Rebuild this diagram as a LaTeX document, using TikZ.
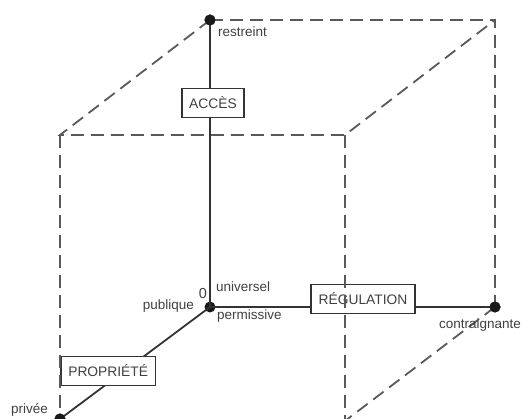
\documentclass[tikz,border=0pt]{standalone}
\usepackage{fontspec}
\setmainfont{Liberation Sans}
\begin{document}
\begin{tikzpicture}[x=1pt,y=-1pt,
  axis/.style={draw=black!80,line width=1.8pt},
  edge/.style={draw=black!65,line width=1.8pt,dash pattern=on 13pt off 7pt},
  pt/.style={circle,fill=black!90,inner sep=0pt,minimum size=11pt},
  lbl/.style={text=black!75,font=\fontsize{13.5}{14}\selectfont,inner sep=0pt},
  dim/.style={draw=black!80,line width=1.6pt,fill=white,text=black!75,font=\fontsize{13.8}{14}\selectfont,minimum height=29pt,inner xsep=7.5pt}]
\useasboundingbox (0,0) rectangle (523,419);
\clip (0,0) rectangle (523,419);
% points
\node[pt] (A) at (210,20) {};
\node[pt] (O) at (210,307) {};
\node[pt] (C) at (495,307) {};
\node[pt] (P) at (60,419) {};
\coordinate (B2) at (495,20);
\coordinate (F1) at (60,135);
\coordinate (F2) at (345,135);
\coordinate (F3) at (345,421);
\coordinate (F4) at (60,410);
% axes
\draw[axis] (A.center) -- (O.center);
\draw[axis] (O.center) -- (C.center);
\draw[axis] (O.center) -- (P.center);
% boxes
\node[dim] (acc) at (213,103) {ACCÈS};
\node[dim] (reg) at (363,299) {RÉGULATION};
\node[dim,anchor=west] (pro) at (60,371) {PROPRIÉTÉ};
% dashed cube
\draw[edge] (A.center) -- (B2) -- (C.center);
\draw[edge] (A.center) -- (F1) -- (F2) -- (B2);
\draw[edge] (F1) -- (F4);
\draw[edge] (F2) -- (F3);
\draw[edge] (C.center) -- (F3);
\node[pt] at (A) {};
\node[pt] at (C) {};
\node[pt] at (P) {};
% labels
\node[lbl,anchor=west] (lr) at (218,32) {restreint};
\node[lbl,anchor=west] (lu) at (216,287) {universel};
\node[lbl,anchor=center,font=\fontsize{14.5}{15}\selectfont] (l0) at (203,294) {0};
\node[lbl,anchor=east] (lp) at (194,306) {publique};
\node[lbl,anchor=west] (lpe) at (217,316) {permissive};
\node[lbl,anchor=west] (lc) at (439,325) {contraignante};
\node[lbl,anchor=west] (lpr) at (11,410) {privée};
\end{tikzpicture}
\end{document}
